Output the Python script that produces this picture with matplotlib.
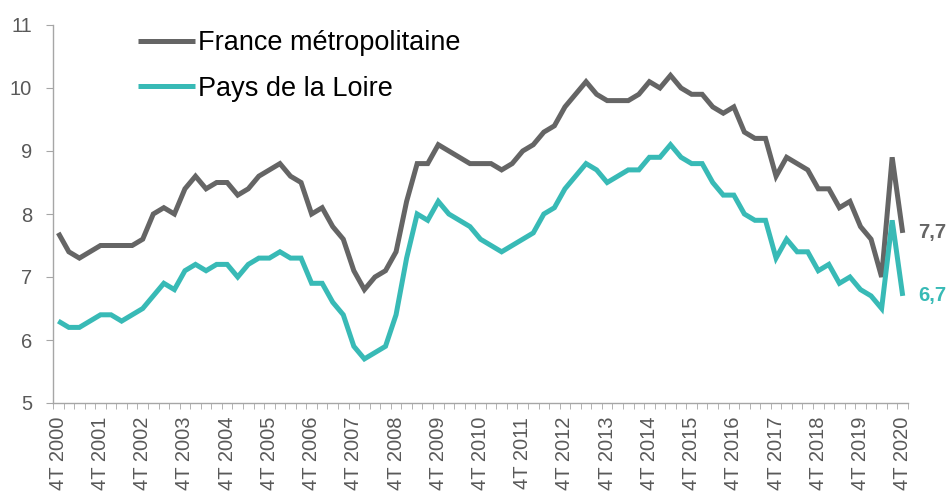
import matplotlib
matplotlib.use("Agg")
import matplotlib.pyplot as plt
import numpy as np

plt.rcParams['font.family'] = ['Liberation Sans', 'DejaVu Sans']

years = list(range(2000, 2021))
tick_labels = [f"4T {y}" for y in years]

france = [7.7, 7.4, 7.3, 7.4, 7.5, 7.5, 7.5, 7.5, 7.6, 8.0, 8.1, 8.0,
          8.4, 8.6, 8.4, 8.5, 8.5, 8.3, 8.4, 8.6, 8.7, 8.8, 8.6, 8.5,
          8.0, 8.1, 7.8, 7.6, 7.1, 6.8, 7.0, 7.1, 7.4, 8.2, 8.8, 8.8,
          9.1, 9.0, 8.9, 8.8, 8.8, 8.8, 8.7, 8.8, 9.0, 9.1, 9.3, 9.4,
          9.7, 9.9, 10.1, 9.9, 9.8, 9.8, 9.8, 9.9, 10.1, 10.0, 10.2, 10.0,
          9.9, 9.9, 9.7, 9.6, 9.7, 9.3, 9.2, 9.2, 8.6, 8.9, 8.8, 8.7,
          8.4, 8.4, 8.1, 8.2, 7.8, 7.6, 7.0, 8.9, 7.7]

loire = [6.3, 6.2, 6.2, 6.3, 6.4, 6.4, 6.3, 6.4, 6.5, 6.7, 6.9, 6.8,
         7.1, 7.2, 7.1, 7.2, 7.2, 7.0, 7.2, 7.3, 7.3, 7.4, 7.3, 7.3,
         6.9, 6.9, 6.6, 6.4, 5.9, 5.7, 5.8, 5.9, 6.4, 7.3, 8.0, 7.9,
         8.2, 8.0, 7.9, 7.8, 7.6, 7.5, 7.4, 7.5, 7.6, 7.7, 8.0, 8.1,
         8.4, 8.6, 8.8, 8.7, 8.5, 8.6, 8.7, 8.7, 8.9, 8.9, 9.1, 8.9,
         8.8, 8.8, 8.5, 8.3, 8.3, 8.0, 7.9, 7.9, 7.3, 7.6, 7.4, 7.4,
         7.1, 7.2, 6.9, 7.0, 6.8, 6.7, 6.5, 7.9, 6.7]

series_names = ["France métropolitaine", "Pays de la Loire"]
colors = ["#656565", "#38bab6"]

W, H = 948, 494
fig = plt.figure(figsize=(W / 100, H / 100), dpi=100)
ax = fig.add_axes([53 / W, (H - 403) / H, (908 - 53) / W, (403 - 25) / H])

x = np.arange(len(france))
for vals, name, c in zip([france, loire], series_names, colors):
    ax.plot(x, vals, color=c, lw=3.6, label=name, solid_joinstyle='miter',
            solid_capstyle='butt')
    ax.annotate(f"{vals[-1]:.1f}".replace('.', ','), xy=(x[-1], vals[-1]),
                xytext=(11, 0), textcoords='offset points', ha='left',
                va='center', color=c, fontsize=14.5, fontweight='bold')

ax.set_xlim(-0.5, len(france) - 0.5)
ax.set_ylim(5, 11)
ax.set_yticks(range(5, 12))
ax.set_xticks(x[::4])
ax.set_xticklabels(tick_labels, rotation=90)
ax.set_xticks(np.arange(-0.5, len(france), 1), minor=True)

axis_col = "#a6a6a6"
for s in ['top', 'right']:
    ax.spines[s].set_visible(False)
for s in ['left', 'bottom']:
    ax.spines[s].set_color(axis_col)
    ax.spines[s].set_linewidth(1.0)

ax.tick_params(axis='x', which='major', length=0, pad=10, labelsize=14.5,
               labelcolor='#595959')
ax.tick_params(axis='x', which='minor', length=4, color=axis_col, direction='out')
ax.tick_params(axis='y', which='major', length=5, color=axis_col, pad=10,
               labelsize=14.5, labelcolor='#595959')

leg = ax.legend(loc='upper left', bbox_to_anchor=(138 / W, (H - 30) / H),
                bbox_transform=fig.transFigure, frameon=False, fontsize=19.5,
                handlelength=2.1, handletextpad=0.1, labelspacing=0.72,
                borderaxespad=0, borderpad=0)

fig.savefig("out.png", dpi=100, facecolor='white')
